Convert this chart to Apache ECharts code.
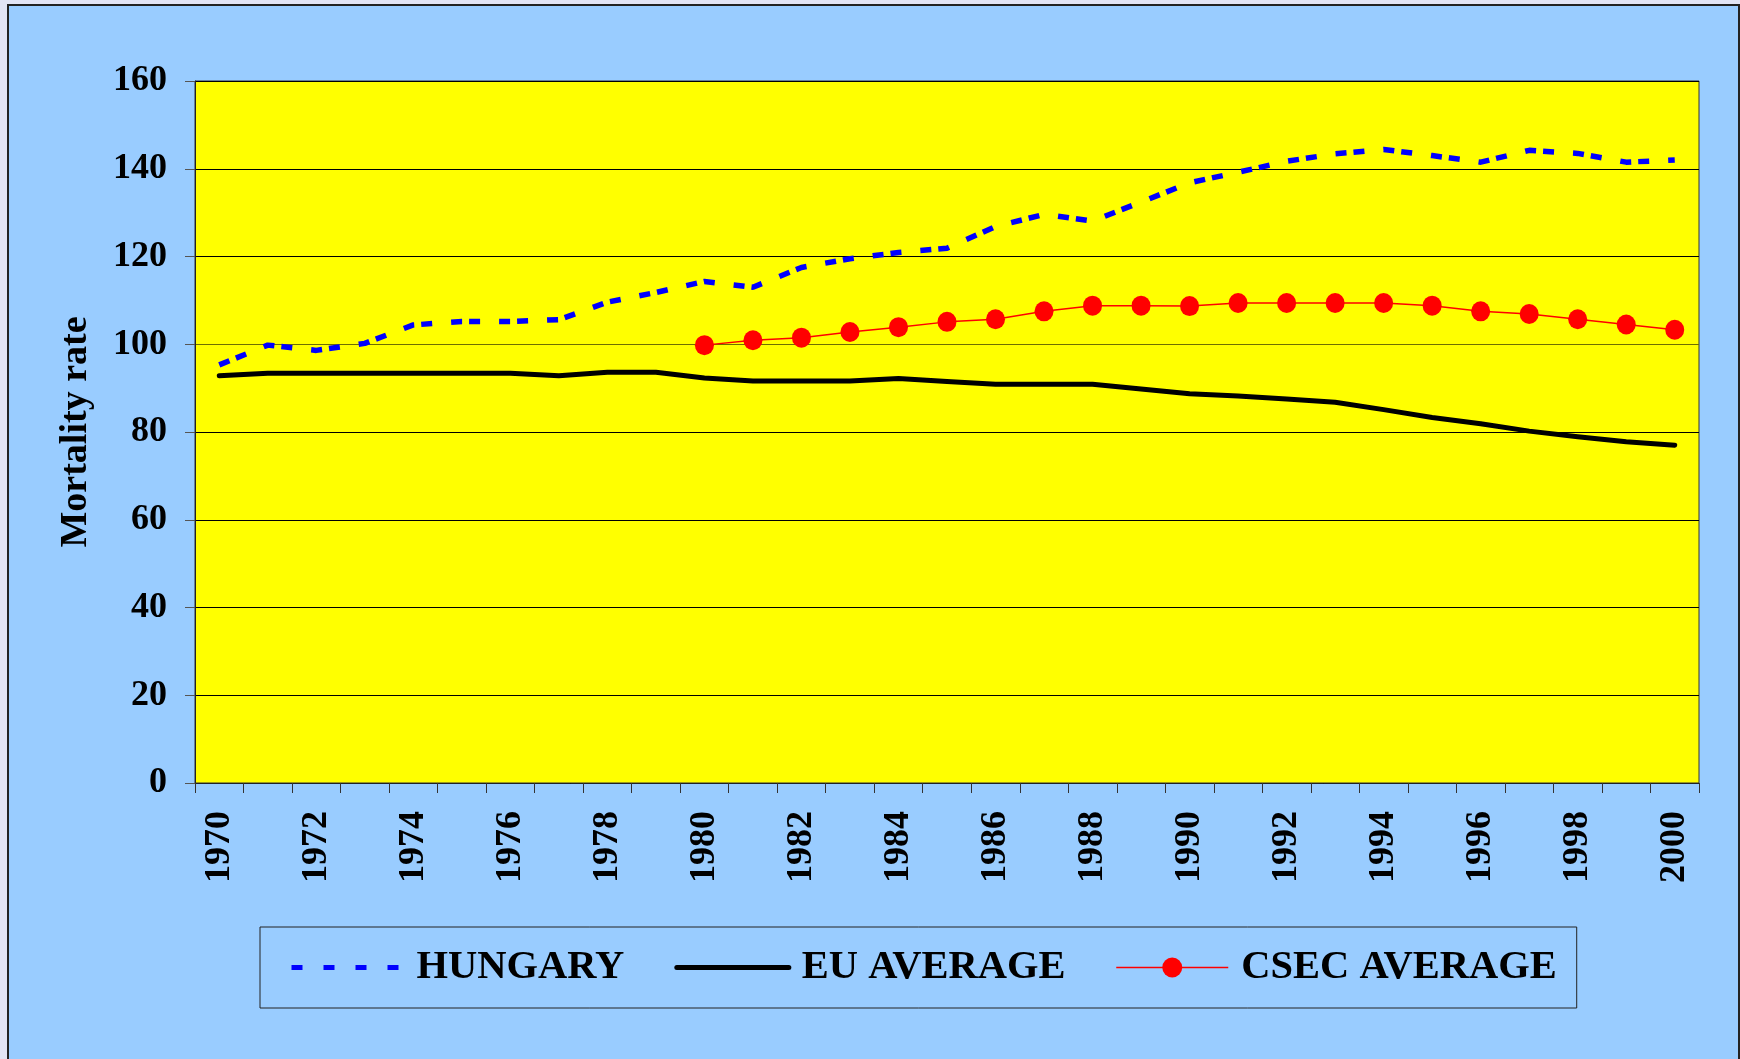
<!DOCTYPE html>
<html>
<head>
<meta charset="utf-8">
<script src="https://cdn.jsdelivr.net/npm/echarts@6/dist/echarts.min.js"></script>
<style>
  html, body { margin: 0; padding: 0; }
  body { width: 1740px; height: 1059px; background: #E2E4F4; position: relative; overflow: hidden; }
  #frame { position: absolute; left: 7px; top: 4px; width: 1733px; height: 1100px; background: #99CCFF; border: 2px solid #222; box-sizing: border-box; }
  #chart { position: absolute; left: 0; top: 0; width: 1740px; height: 1059px; }
</style>
</head>
<body>
<div id="frame"></div>
<div id="chart"></div>
<script>
// ---- data ----
const years = ['1970','1971','1972','1973','1974','1975','1976','1977','1978','1979',
               '1980','1981','1982','1983','1984','1985','1986','1987','1988','1989',
               '1990','1991','1992','1993','1994','1995','1996','1997','1998','1999','2000'];
const hungary = [95.3, 99.8, 98.6, 100.2, 104.4, 105.2, 105.2, 105.6, 109.6, 111.8,
                 114.3, 113.0, 117.5, 119.5, 120.9, 121.9, 126.8, 129.6, 128.1, 132.4,
                 136.8, 139.2, 141.7, 143.4, 144.4, 143.0, 141.5, 144.2, 143.5, 141.5, 142.0];
const euAverage = [92.8, 93.4, 93.4, 93.4, 93.4, 93.4, 93.4, 92.8, 93.6, 93.6,
                   92.3, 91.6, 91.6, 91.6, 92.2, 91.5, 90.9, 90.9, 90.9, 89.8,
                   88.7, 88.2, 87.5, 86.8, 85.1, 83.3, 81.9, 80.2, 78.9, 77.8, 77.0];
const csecAverage = [null, null, null, null, null, null, null, null, null, null,
                     99.8, 100.9, 101.5, 102.8, 103.9, 105.1, 105.7, 107.5, 108.8, 108.8,
                     108.7, 109.4, 109.4, 109.4, 109.4, 108.8, 107.5, 106.9, 105.7, 104.5, 103.3];
const yTicks = { min: 0, max: 160, interval: 20 };
const seriesNames = ['HUNGARY', 'EU AVERAGE', 'CSEC AVERAGE'];
const yAxisTitle = 'Mortality rate';

const FONT = "'Liberation Serif', 'Times New Roman', serif";
const hidden = { color: 'rgba(0,0,0,0)', borderWidth: 0, opacity: 0 };
const chart = echarts.init(document.getElementById('chart'), null, { renderer: 'canvas' });
chart.setOption({
  animation: false,
  backgroundColor: 'transparent',
  grid: {
    left: 195, right: 41, top: 81, bottom: 276,
    show: true, backgroundColor: '#FFFF00', borderColor: '#333', borderWidth: 1
  },
  legend: {
    left: 260, top: 927,
    orient: 'horizontal',
    padding: [20, 20, 20, 29],
    borderColor: '#222', borderWidth: 1,
    itemWidth: 112, itemHeight: 25, itemGap: 50,
    textStyle: { fontFamily: FONT, fontSize: 40.5, fontWeight: 'bold', color: '#000', padding: [0, 0, 0, 8] },
    data: [
      { name: seriesNames[0], lineStyle: { type: [11, 21], width: 5, color: '#0000FF' }, itemStyle: hidden },
      { name: seriesNames[1], lineStyle: { width: 5, color: '#000', cap: 'round' }, itemStyle: hidden },
      { name: seriesNames[2], lineStyle: { width: 1.5, color: '#FF0000' } }
    ]
  },
  xAxis: {
    type: 'category',
    data: years,
    boundaryGap: true,
    axisLine: { lineStyle: { color: '#222', width: 1 } },
    axisTick: { show: true, interval: 0, length: 10, lineStyle: { color: '#333' } },
    axisLabel: {
      interval: 1, rotate: 90, margin: 28,
      fontFamily: FONT, fontSize: 36, fontWeight: 'bold', color: '#000'
    },
    splitLine: { show: false }
  },
  yAxis: {
    type: 'value',
    min: yTicks.min, max: yTicks.max, interval: yTicks.interval,
    name: yAxisTitle,
    nameLocation: 'middle',
    nameGap: 100,
    nameTextStyle: { fontFamily: FONT, fontSize: 38, fontWeight: 'bold', color: '#000' },
    axisLine: { show: true, lineStyle: { color: '#222', width: 1 } },
    axisTick: { show: true, length: 10, lineStyle: { color: '#555' } },
    axisLabel: { margin: 28, fontFamily: FONT, fontSize: 36, fontWeight: 'bold', color: '#000' },
    splitLine: { show: true, lineStyle: { color: ['#000','#000','#000','#000','#000','#6e6e00','#000','#000','#000'], width: 1 } }
  },
  series: [
    {
      name: seriesNames[0], type: 'line', data: hungary,
      symbol: 'none', showSymbol: false,
      lineStyle: { color: '#0000FF', width: 5.5, type: [11, 7, 11, 19], cap: 'butt' },
      itemStyle: { color: '#0000FF' },
      z: 3
    },
    {
      name: seriesNames[1], type: 'line', data: euAverage,
      symbol: 'none', showSymbol: false,
      lineStyle: { color: '#000000', width: 5, cap: 'round', join: 'round' },
      itemStyle: { color: '#000000' },
      z: 2
    },
    {
      name: seriesNames[2], type: 'line', data: csecAverage,
      symbol: 'circle', symbolSize: [19, 20], showSymbol: true,
      connectNulls: false,
      lineStyle: { color: '#FF0000', width: 1.5 },
      itemStyle: { color: '#FF0000' },
      z: 4
    }
  ]
});
</script>
</body>
</html>
